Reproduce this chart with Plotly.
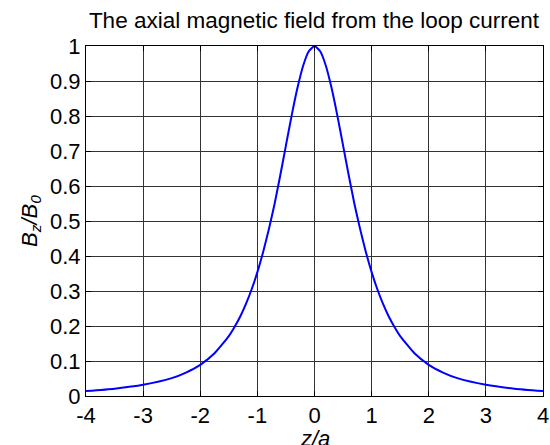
import plotly.graph_objects as go

# z/a positions and B_z/B_0 values (symmetric about 0)
z_over_a = [-4.0, -3.5, -3.0, -2.5, -2.25, -2.0, -1.75, -1.5, -1.4, -1.3, -1.2, -1.1,
            -1.0, -0.9, -0.8, -0.7, -0.6, -0.5, -0.4, -0.3, -0.2, -0.1, 0.0,
            0.1, 0.2, 0.3, 0.4, 0.5, 0.6, 0.7, 0.8, 0.9, 1.0,
            1.1, 1.2, 1.3, 1.4, 1.5, 1.75, 2.0, 2.25, 2.5, 3.0, 3.5, 4.0]
bz_over_b0 = [0.014, 0.021, 0.032, 0.051, 0.067, 0.089, 0.122, 0.171, 0.197, 0.227, 0.263, 0.305,
              0.354, 0.411, 0.476, 0.548, 0.630, 0.716, 0.801, 0.879, 0.943, 0.985, 1.0,
              0.985, 0.943, 0.879, 0.801, 0.716, 0.630, 0.548, 0.476, 0.411, 0.354,
              0.305, 0.263, 0.227, 0.197, 0.171, 0.122, 0.089, 0.067, 0.051, 0.032, 0.021, 0.014]

x_ticks = [-4, -3, -2, -1, 0, 1, 2, 3, 4]
x_tick_labels = ["-4", "-3", "-2", "-1", "0", "1", "2", "3", "4"]
y_ticks = [0, 0.1, 0.2, 0.3, 0.4, 0.5, 0.6, 0.7, 0.8, 0.9, 1]
y_tick_labels = ["0", "0.1", "0.2", "0.3", "0.4", "0.5", "0.6", "0.7", "0.8", "0.9", "1"]

FONT = "Liberation Sans, Arial, sans-serif"

fig = go.Figure()
fig.add_trace(go.Scatter(
    x=z_over_a, y=bz_over_b0, mode="lines",
    line=dict(color="#0000FF", width=2, shape="spline", smoothing=0.5),
    showlegend=False, hoverinfo="skip",
))

axis_common = dict(
    showline=True, linecolor="black", linewidth=1, mirror="ticks",
    ticks="inside", ticklen=5, tickcolor="black", tickwidth=1,
    showgrid=True, gridcolor="#333333", gridwidth=1,
    zeroline=False,
    tickfont=dict(family=FONT, size=22, color="black"),
)

fig.update_layout(
    width=550, height=445,
    margin=dict(l=86, r=7, t=46, b=49),
    paper_bgcolor="white", plot_bgcolor="white",
    title=dict(
        text="The axial magnetic field from the loop current",
        font=dict(family=FONT, size=22.5, color="black"),
        x=314 / 550, xanchor="center",
        y=1 - 20 / 445, yanchor="middle",
    ),
    xaxis=dict(
        range=[-4, 4], tickvals=x_ticks, ticktext=x_tick_labels,
        automargin=False,
        **axis_common,
    ),
    yaxis=dict(
        range=[0, 1], tickvals=y_ticks, ticktext=y_tick_labels,
        title=dict(text="<i>B<sub>z</sub>/B<sub>0</sub></i>", font=dict(family=FONT, size=22, color="black"), standoff=6),
        **axis_common,
    ),
    annotations=[dict(
        text="<i>z/a</i>", x=0, xref="x", y=-0.12, yref="paper",
        xanchor="center", yanchor="middle", showarrow=False,
        font=dict(family=FONT, size=22, color="black"),
    )],
)

fig.write_html("out.html")
